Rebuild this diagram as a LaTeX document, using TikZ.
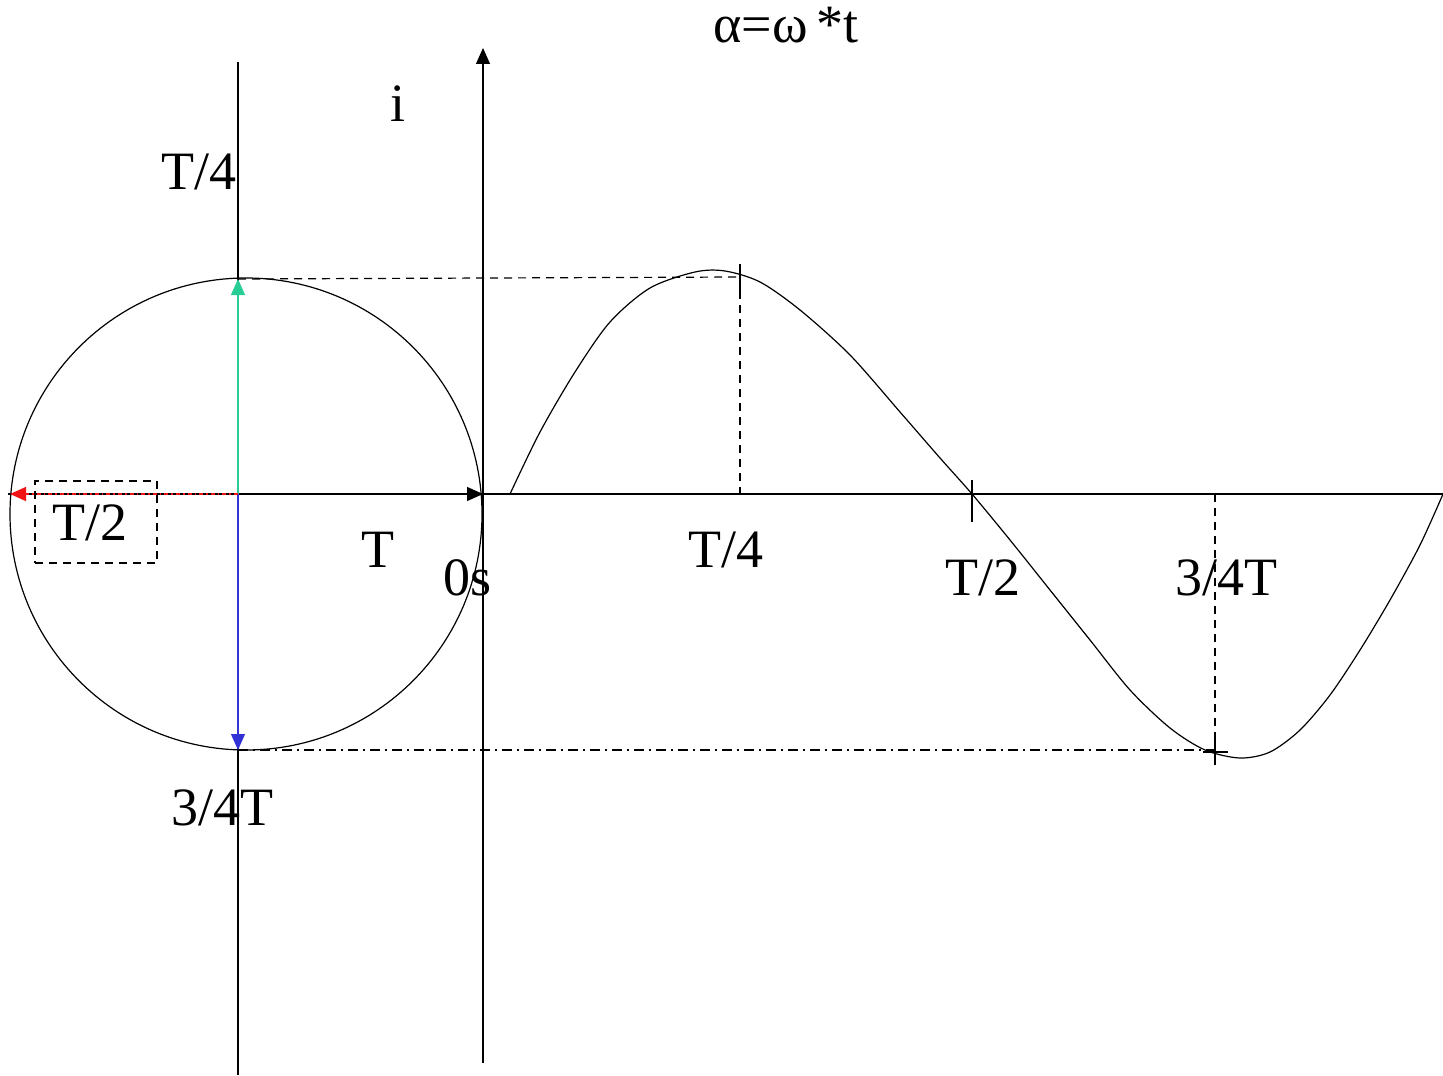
\documentclass[tikz,border=0pt]{standalone}
\usepackage{fontspec}
\setmainfont{Liberation Serif}
\usetikzlibrary{arrows.meta}
\definecolor{tealc}{RGB}{40,205,150}
\definecolor{bluec}{RGB}{50,50,215}
\definecolor{redc}{RGB}{240,20,20}
\tikzset{
  lbl/.style={inner sep=0pt, font=\fontsize{27}{30}\selectfont},
  thinln/.style={line width=0.6pt, black},
  dashln/.style={line width=0.6pt, dash pattern=on 4pt off 3pt},
  dashdotln/.style={line width=0.6pt, dash pattern=on 5pt off 2.5pt on 1pt off 2.5pt},
  tip/.style={-{Triangle[length=8pt,width=7pt]}},
}
\begin{document}
\begin{tikzpicture}[x=0.5pt,y=-0.5pt]
\useasboundingbox (0,0) rectangle (1443,1075);
% coordinates
\coordinate (vtop) at (238,62);
\coordinate (vbot) at (238,1075);
\coordinate (o) at (238,494);
\coordinate (atop) at (483,48);
\coordinate (abot) at (483,1063);
\coordinate (hl) at (8,494);
\coordinate (hr) at (1443,494);
\coordinate (ax) at (483,494);
\coordinate (ctop) at (238,279);
\coordinate (cbot) at (238,750);
\coordinate (cleft) at (10,494);
\coordinate (cc) at (246,514);
\coordinate (pk) at (740,277);
\coordinate (pkb) at (740,494);
\coordinate (tr) at (1215,750);
\coordinate (trb) at (1215,494);
% axes
\draw[thinln] (vtop) -- (vbot);
\draw[thinln,tip] (abot) -- (atop);
\draw[thinln] (hl) -- (hr);
\draw[thinln,tip] (o) -- (ax);
% circle
\draw[thinln] (cc) circle [radius=118pt];
% phasor arrows
\draw[tealc,line width=0.6pt,tip] (o) -- (ctop);
\draw[bluec,line width=0.6pt,tip] (o) -- (cbot);
\draw[redc,line width=0.7pt,dash pattern=on 2pt off 1.5pt on 0.8pt off 1.5pt,tip] (o) -- (cleft);
% projection lines
\draw[dashln] (ctop) -- (pk);
\draw[dashln] (pk) -- (pkb);
\draw[dashdotln] (cbot) -- (tr);
\draw[dashln] (trb) -- (tr);
% ticks
\draw[thinln] (740,264) -- (740,291);
\draw[thinln] (972,480) -- (972,522);
\draw[thinln] (1215,738) -- (1215,765);
\draw[thinln] (1203,752) -- (1228,752);
% sine curve
\draw[thinln] plot[smooth,tension=0.5] coordinates {
 (510,494) (540,432) (575,372) (610,322) (650,288) (695,272) (725,271)
 (760,282) (800,310) (850,355) (900,412) (940,458) (972,494)
 (1010,540) (1050,590) (1090,640) (1130,690) (1170,728) (1205,750)
 (1240,758) (1270,752) (1300,730) (1330,695) (1360,650) (1390,600) (1420,545) (1443,494)};
% dashed box
\node[draw,dashln,minimum width=61pt,minimum height=41pt,inner sep=0pt] (box) at (96,522) {};
% labels
\node[lbl] (alpha) at (786,25) {α=ω\,*t};
\node[lbl] (ilbl) at (398,104) {i};
\node[lbl] (t4a) at (199,172) {T/4};
\node[lbl] (t2a) at (90,523) {T/2};
\node[lbl] (tlbl) at (378,550) {T};
\node[lbl] (zero) at (467,578) {0s};
\node[lbl] (t4b) at (726,550) {T/4};
\node[lbl] (t2b) at (983,578) {T/2};
\node[lbl] (t34b) at (1226,578) {3/4T};
\node[lbl] (t34a) at (222,808) {3/4T};
\end{tikzpicture}
\end{document}
